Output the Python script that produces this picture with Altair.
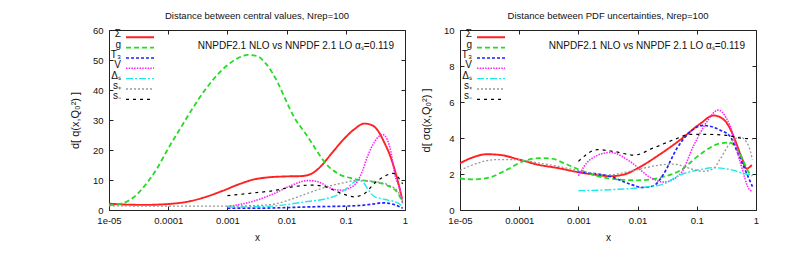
import altair as alt
import pandas as pd

# ---------------- series definitions ----------------
SERIES = ["Σ", "g", "T₃", "V", "Δₛ", "s₊", "s₋"]
COLORS = ["#ff2020", "#22dd22", "#2020ff", "#ff20ff", "#20e8e8", "#999999", "#000000"]
DASHES = [[1, 0], [5, 3], [3, 2], [1.5, 1.2], [7, 2, 2, 2], [2, 2], [3, 4]]
WIDTHS = [1.9, 1.2, 1.2, 1.2, 1.2, 1.2, 1.2]

XTICK_VALUES = [1e-5, 1e-4, 1e-3, 1e-2, 0.1, 1]
XTICK_LABELS = ["1e-05", "0.0001", "0.001", "0.01", "0.1", "1"]

NOTE = "NNPDF2.1 NLO vs NNPDF 2.1 LO αₛ=0.119"
TITLE_L = "Distance between central values, Nrep=100"
TITLE_R = "Distance between PDF uncertainties, Nrep=100"
YTITLE_L = "d[ q(x,Q₀²) ]"
YTITLE_R = "d[ σq(x,Q₀²) ]"

# ---------------- left panel: central values ----------------
SIG_L_x = [1e-5, 2e-5, 3.98e-5, 1e-4, 2.29e-4, 4.37e-4, 8.32e-4, 1.58e-3, 2.69e-3, 5.01e-3, 0.01, 0.0174,
           0.0257, 0.038, 0.0562, 0.0933, 0.141, 0.204, 0.282, 0.347, 0.447, 0.575, 0.759, 0.891]
SIG_L_y = [2.1, 1.8, 1.7, 2.0, 2.9, 4.4, 6.4, 8.6, 10.1, 10.9, 11.2, 11.3,
           12.0, 14.6, 18.6, 23.7, 27.0, 28.8, 28.2, 26.5, 22.5, 17.5, 9.5, 3.8]

G_L_x = [1e-5, 1.41e-5, 2e-5, 2.82e-5, 3.98e-5, 6.31e-5, 1e-4, 1.58e-4, 2.51e-4, 4.37e-4, 7.94e-4, 1.41e-3,
         2.19e-3, 3.16e-3, 4.47e-3, 7.08e-3, 0.01, 0.0135, 0.02, 0.0257, 0.0355, 0.0437, 0.0724, 0.138,
         0.302, 0.513, 0.759, 0.912]
G_L_y = [1.6, 1.9, 2.8, 4.8, 8.0, 13.5, 20.5, 27.0, 33.5, 40.5, 46.5, 50.3,
         51.7, 51.3, 48.8, 42.5, 36.0, 30.8, 26.0, 22.8, 18.5, 16.0, 12.2, 10.4,
         9.3, 8.1, 5.6, 2.5]

T3_L_x = [1e-3, 3.16e-3, 0.01, 0.0316, 0.1, 0.2, 0.316, 0.398, 0.501, 0.631, 0.794, 0.912]
T3_L_y = [0.6, 0.6, 0.8, 1.1, 1.3, 1.6, 2.1, 2.4, 2.3, 1.9, 1.2, 0.6]

V_L_x = [1e-3, 1.58e-3, 2.82e-3, 6.17e-3, 0.0117, 0.0229, 0.0316, 0.038, 0.0646, 0.0891, 0.107, 0.158,
         0.191, 0.229, 0.282, 0.347, 0.417, 0.501, 0.603, 0.661, 0.851, 0.912]
V_L_y = [1.2, 1.8, 3.0, 5.5, 8.1, 9.8, 9.6, 9.0, 6.8, 6.6, 7.0, 9.6,
         13.0, 17.5, 21.5, 24.2, 25.2, 23.5, 17.5, 12.6, 5.5, 2.0]

DS_L_x = [1e-3, 3.16e-3, 5.5e-3, 0.01, 0.02, 0.049, 0.0724, 0.107, 0.158, 0.191, 0.234, 0.302,
          0.398, 0.513, 0.708, 0.912]
DS_L_y = [1.0, 1.1, 1.3, 1.8, 2.7, 3.9, 5.0, 7.5, 9.8, 9.5, 7.0, 4.5,
          3.8, 3.3, 2.6, 1.3]

SP_L_x = [1e-5, 1e-4, 1e-3, 3.16e-3, 6.31e-3, 0.0105, 0.0229, 0.049, 0.0933, 0.158, 0.302, 0.513, 0.759, 0.912]
SP_L_y = [1.4, 1.3, 1.3, 1.5, 2.0, 3.2, 5.6, 7.8, 9.1, 9.9, 9.5, 8.4, 6.2, 3.0]

SM_L_x = [1e-3, 2.82e-3, 6.17e-3, 0.0117, 0.0257, 0.0437, 0.0832, 0.138, 0.204, 0.302, 0.447, 0.631, 0.794, 0.912]
SM_L_y = [4.8, 5.7, 6.5, 7.6, 8.3, 7.8, 5.6, 4.4, 5.4, 8.8, 11.2, 12.2, 10.5, 8.7]

# ---------------- right panel: uncertainties ----------------
SIG_R_x = [1e-5, 1.58e-5, 2.82e-5, 5.0e-5, 1e-4, 2.19e-4, 4.17e-4, 1e-3, 2.0e-3, 3.47e-3, 6.31e-3, 9.77e-3,
           0.024, 0.0525, 0.115, 0.191, 0.251, 0.355, 0.417, 0.575, 0.692, 0.851]
SIG_R_y = [2.6, 2.9, 3.1, 3.05, 2.8, 2.5, 2.35, 2.1, 1.95, 1.88, 2.0, 2.3,
           3.1, 3.9, 4.8, 5.25, 5.15, 4.6, 4.1, 2.9, 2.3, 2.5]

G_R_x = [1e-5, 1.62e-5, 3.09e-5, 5.89e-5, 1.15e-4, 2.19e-4, 3.55e-4, 5.75e-4, 1.1e-3, 2.69e-3, 9.77e-3,
         0.024, 0.0525, 0.115, 0.245, 0.363, 0.537, 0.794, 0.871]
G_R_y = [1.75, 1.7, 1.8, 2.2, 2.7, 2.88, 2.85, 2.6, 2.2, 1.8, 1.65,
         1.8, 2.2, 3.1, 3.7, 3.75, 3.1, 2.0, 1.9]

T3_R_x = [1e-3, 3.47e-3, 6.61e-3, 0.0126, 0.0186, 0.0275, 0.0457, 0.0776, 0.129, 0.245, 0.363, 0.501, 0.794, 0.871]
T3_R_y = [2.1, 1.86, 1.5, 1.25, 1.35, 2.0, 3.4, 4.35, 4.7, 4.45, 4.1, 3.1, 1.6, 1.3]

V_R_x = [1e-3, 1.58e-3, 3.47e-3, 7.41e-3, 0.0166, 0.0275, 0.0525, 0.0891, 0.148, 0.229, 0.316, 0.363,
         0.537, 0.794, 0.871]
V_R_y = [1.9, 2.8, 3.2, 2.7, 1.8, 1.55, 2.0, 3.6, 4.9, 5.55, 5.1, 4.7, 2.7, 1.1, 1.05]

DS_R_x = [1e-3, 3.47e-3, 0.0126, 0.0275, 0.0525, 0.115, 0.191, 0.363, 0.794, 0.871]
DS_R_y = [1.07, 1.13, 1.26, 1.45, 1.95, 2.24, 2.35, 2.25, 1.96, 1.95]

SP_R_x = [1e-5, 1.62e-5, 4.07e-5, 8.71e-5, 2.19e-4, 4.17e-4, 9.55e-4, 3.09e-3, 8.71e-3, 0.024, 0.0407,
          0.0776, 0.129, 0.191, 0.245, 0.363, 0.537, 0.741, 0.871]
SP_R_y = [2.2, 2.5, 2.8, 2.8, 2.6, 2.45, 2.2, 1.95, 2.2, 2.5, 2.55,
          2.3, 2.15, 2.3, 2.8, 3.7, 4.05, 3.6, 2.8]

SM_R_x = [1e-3, 2.09e-3, 3.98e-3, 8.71e-3, 0.0186, 0.0407, 0.0776, 0.148, 0.316, 0.537, 0.871]
SM_R_y = [2.7, 3.35, 3.25, 3.05, 3.45, 3.9, 4.2, 4.2, 4.15, 4.0, 3.95]


def build_frame(xs_list, ys_list):
    rows = []
    for name, xs, ys in zip(SERIES, xs_list, ys_list):
        for x, y in zip(xs, ys):
            rows.append({"s": name, "x": x, "v": y})
    return pd.DataFrame(rows)


df_left = build_frame([SIG_L_x, G_L_x, T3_L_x, V_L_x, DS_L_x, SP_L_x, SM_L_x],
                      [SIG_L_y, G_L_y, T3_L_y, V_L_y, DS_L_y, SP_L_y, SM_L_y])
df_right = build_frame([SIG_R_x, G_R_x, T3_R_x, V_R_x, DS_R_x, SP_R_x, SM_R_x],
                       [SIG_R_y, G_R_y, T3_R_y, V_R_y, DS_R_y, SP_R_y, SM_R_y])

label_expr = "'" + XTICK_LABELS[-1] + "'"
for v, lab in reversed(list(zip(XTICK_VALUES[:-1], XTICK_LABELS[:-1]))):
    label_expr = f"datum.value < {v * 3} ? '{lab}' : " + label_expr

FONT = "Liberation Sans"
W, H = 296, 180
TICK = 4


def panel(df, title, ymax, ystep, ytitle):
    xscale = alt.Scale(type="log", domain=[1e-5, 1])
    yscale = alt.Scale(domain=[0, ymax], nice=False, zero=True)
    yvals = list(range(0, ymax + 1, ystep))
    color = alt.Color("s:N", scale=alt.Scale(domain=SERIES, range=COLORS), legend=None)
    dash = alt.StrokeDash("s:N", scale=alt.Scale(domain=SERIES, range=DASHES), legend=None)
    sw = alt.StrokeWidth("s:N", scale=alt.Scale(domain=SERIES, range=WIDTHS), legend=None)
    tick_common = dict(domain=False, grid=False, tickSize=TICK, offset=-TICK, tickColor="#222",
                       tickWidth=1)

    lines = alt.Chart(df).mark_line(interpolate="monotone").encode(
        x=alt.X("x:Q", scale=xscale,
                axis=alt.Axis(orient="bottom", values=XTICK_VALUES, labelExpr=label_expr,
                              title="x", labelPadding=5, titlePadding=8, labelFlush=False,
                              labelOverlap=False, **tick_common)),
        y=alt.Y("v:Q", scale=yscale,
                axis=alt.Axis(orient="left", values=yvals, title=ytitle, labelPadding=6,
                              titlePadding=12, titleFontSize=11, **tick_common)),
        color=color, strokeDash=dash, strokeWidth=sw,
    )
    mirror = alt.Chart(df).mark_line(opacity=0).encode(
        x=alt.X("x:Q", scale=xscale,
                axis=alt.Axis(orient="top", values=XTICK_VALUES, labels=False, title=None, **tick_common)),
        y=alt.Y("v:Q", scale=yscale,
                axis=alt.Axis(orient="right", values=yvals, labels=False, title=None, **tick_common)),
        detail="s:N",
    )
    note = alt.Chart(pd.DataFrame({"t": [NOTE]})).mark_text(
        align="right", baseline="middle", fontSize=10, font=FONT, color="#111"
    ).encode(x=alt.value(W - 11), y=alt.value(16), text="t:N")

    leg_df = pd.DataFrame({"s": SERIES})
    ly = alt.Y("s:N", scale=alt.Scale(type="point", domain=SERIES, range=[7.3, 69.3], padding=0), axis=None)
    leg_rule = alt.Chart(leg_df).mark_rule().encode(
        x=alt.value(17), x2=alt.value(45), y=ly, color=color, strokeDash=dash, strokeWidth=sw)
    leg_text = alt.Chart(leg_df).mark_text(
        align="right", baseline="middle", dy=-3, fontSize=10, font=FONT, color="#111"
    ).encode(x=alt.value(12), y=ly, text="s:N")

    return alt.layer(lines, mirror, note, leg_rule, leg_text).resolve_scale(
        y="independent").resolve_axis(x="independent").properties(
        width=W, height=H,
        title=alt.TitleParams(title, fontSize=9.5, fontWeight="normal", font=FONT, color="#111",
                              anchor="middle", frame="group", offset=5),
    )


left = panel(df_left, TITLE_L, 60, 10, YTITLE_L)
right = panel(df_right, TITLE_R, 10, 2, YTITLE_R)

chart = alt.hconcat(left, right, spacing=10).configure(
    padding={"left": 60, "top": 2, "right": 5, "bottom": 5},
    font=FONT,
).configure_view(stroke="#222", strokeWidth=1).configure_axis(
    labelFont=FONT, titleFont=FONT, labelFontSize=9.5, titleFontSize=10,
    titleFontWeight="normal", labelColor="#111", titleColor="#111",
)

chart.save("out.html", embed_options={"renderer": "svg", "actions": False})
